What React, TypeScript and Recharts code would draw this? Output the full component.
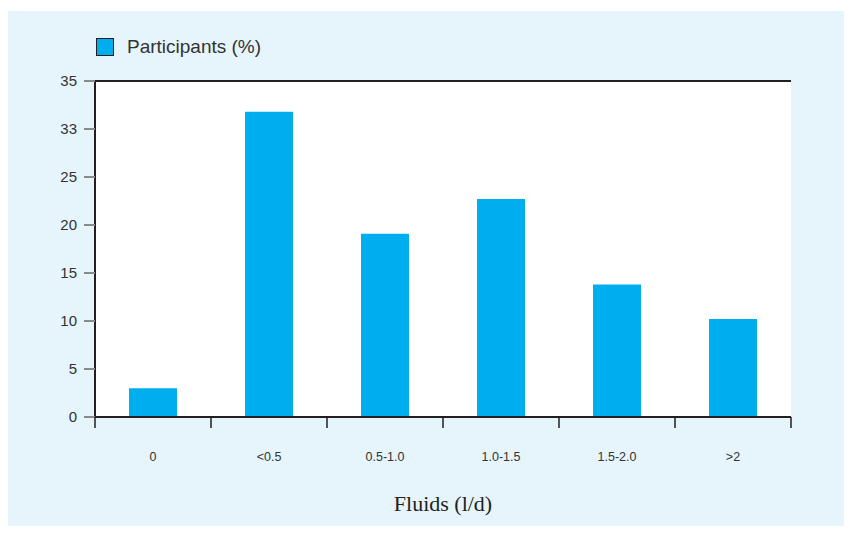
import React from "react";
import {
  BarChart,
  Bar,
  XAxis,
  YAxis,
  CartesianGrid,
  ReferenceLine,
  Label,
} from "recharts";

// Share of participants by daily fluid intake
const categories = ["0", "<0.5", "0.5-1.0", "1.0-1.5", "1.5-2.0", ">2"];
const participants = [3, 31.8, 19.1, 22.7, 13.8, 10.2];

// Value axis ticks and the labels printed beside them
const yTicks = [0, 5, 10, 15, 20, 25, 30, 35];
const yTickLabels = ["0", "5", "10", "15", "20", "25", "33", "35"];

const seriesName = "Participants (%)";

const data = categories.map((c, i) => ({ category: c, value: participants[i] }));

const BAR_COLOR = "#00AEEF";
const PANEL_BG = "#E6F4FB";
const DARK = "#231F20";
const NARROW = "'Liberation Sans Narrow', 'Arial Narrow', 'Liberation Sans', Arial, sans-serif";

const X_TICK_SIZE = 11;
const X_TICK_GAP = 24;

// Category label with tick marks on the group boundaries rather than the centre
const CategoryTick = (props: any) => {
  const { x, y, payload, index, visibleTicksCount } = props;
  const half = payload?.offset ?? 0;
  const axisY = y - X_TICK_SIZE - X_TICK_GAP;
  const isLast = index === visibleTicksCount - 1;
  return (
    <g>
      <line
        x1={x - half}
        x2={x - half}
        y1={axisY}
        y2={axisY + X_TICK_SIZE}
        stroke={DARK}
        strokeWidth={1.5}
      />
      {isLast && (
        <line
          x1={x + half}
          x2={x + half}
          y1={axisY}
          y2={axisY + X_TICK_SIZE}
          stroke={DARK}
          strokeWidth={1.5}
        />
      )}
      <text
        x={x}
        y={y}
        dy="0.71em"
        textAnchor="middle"
        fontFamily={NARROW}
        fontSize={12.5}
        fill="#333"
      >
        {payload.value}
      </text>
    </g>
  );
};

const LegendBox = () => (
  <div
    style={{
      position: "absolute",
      left: 88,
      top: 27,
      display: "flex",
      alignItems: "center",
    }}
  >
    <div
      style={{
        width: 16,
        height: 16,
        background: BAR_COLOR,
        border: `1px solid ${DARK}`,
      }}
    />
    <span
      style={{
        marginLeft: 13,
        fontFamily: "'Liberation Sans', Arial, sans-serif",
        fontSize: 19,
        color: "#333",
        lineHeight: "18px",
      }}
    >
      {seriesName}
    </span>
  </div>
);

export default function App() {
  return (
    <div style={{ width: 844, height: 518, position: "relative" }}>
      <style>{`html { overflow: hidden; }`}</style>
      <div
        style={{
          position: "absolute",
          left: 0,
          top: 3,
          width: 844,
          height: 523,
          background: PANEL_BG,
        }}
      >
        <BarChart
          width={844}
          height={523}
          data={data}
          margin={{ top: 70, right: 61, bottom: 0, left: 0 }}
          barCategoryGap={0}
        >
          <CartesianGrid
            horizontal
            vertical={false}
            stroke="#C8C8C8"
            strokeWidth={2}
            fill="#FFFFFF"
            fillOpacity={1}
          />
          <XAxis
            xAxisId="cat"
            dataKey="category"
            type="category"
            height={117}
            axisLine={{ stroke: DARK, strokeWidth: 2 }}
            tickLine={false}
            tickSize={X_TICK_SIZE}
            tickMargin={X_TICK_GAP}
            tick={<CategoryTick />}
            interval={0}
          >
            <Label
              value="Fluids (l/d)"
              position="insideBottom"
              offset={23}
              style={{
                fontFamily: "'Liberation Serif', 'DejaVu Serif', serif",
                fontSize: 22,
                fill: "#231F20",
              }}
            />
          </XAxis>
          <YAxis
            yAxisId="v"
            domain={[0, 35]}
            ticks={yTicks}
            width={87}
            axisLine={{ stroke: DARK, strokeWidth: 2 }}
            tickLine={{ stroke: "#8A8A8A", strokeWidth: 2 }}
            tickSize={11}
            tickMargin={7}
            tickFormatter={(v: number) => yTickLabels[yTicks.indexOf(v)] ?? String(v)}
            tick={{ fontFamily: NARROW, fontSize: 15, fill: "#333" }}
          />
          <YAxis
            yAxisId="r"
            orientation="right"
            domain={[0, 35]}
            width={0}
            tick={false}
            tickLine={false}
            axisLine={{ stroke: DARK, strokeWidth: 2 }}
          />
          <ReferenceLine
            yAxisId="v"
            xAxisId="cat"
            y={35}
            stroke={DARK}
            strokeWidth={2}
          />
          <Bar
            xAxisId="cat"
            yAxisId="v"
            dataKey="value"
            name={seriesName}
            fill={BAR_COLOR}
            barSize={48}
            isAnimationActive={false}
          />
        </BarChart>
        <LegendBox />
      </div>
    </div>
  );
}
